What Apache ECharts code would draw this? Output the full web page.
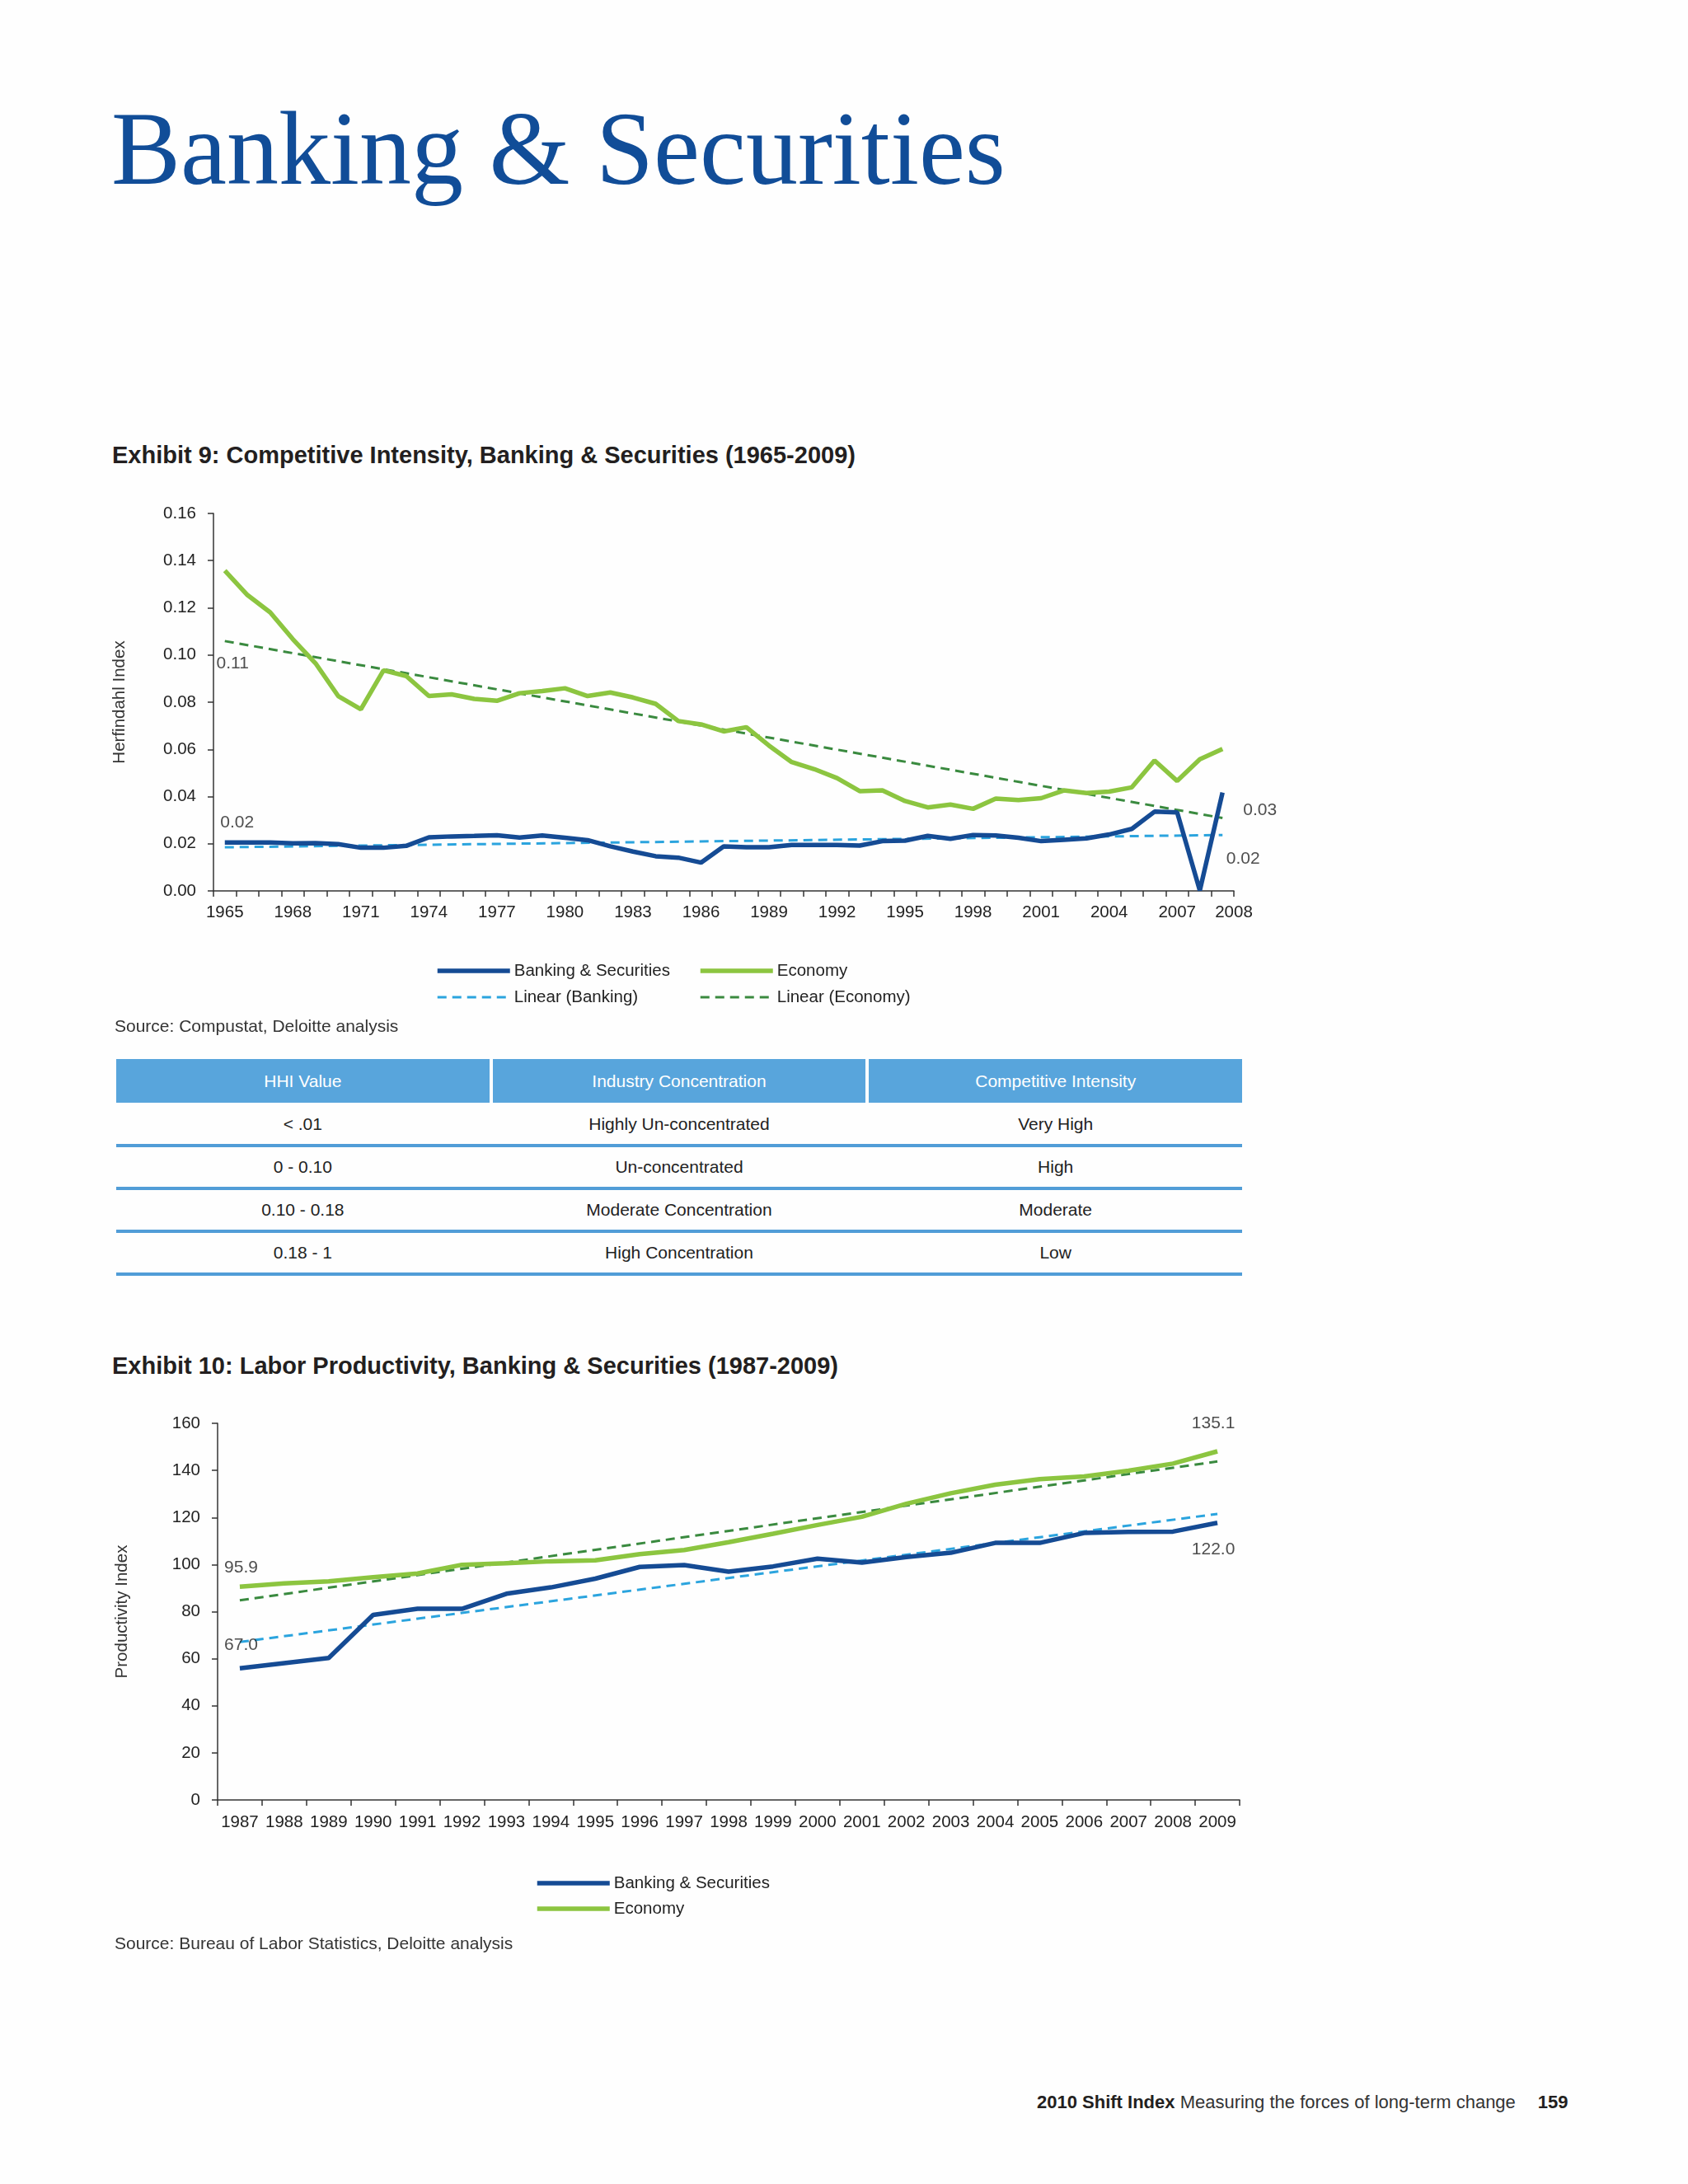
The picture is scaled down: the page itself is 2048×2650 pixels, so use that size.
<!DOCTYPE html>
<html>
<head>
<meta charset="utf-8">
<title>Banking &amp; Securities</title>
<script src="https://cdn.jsdelivr.net/npm/echarts@6/dist/echarts.min.js"></script>
<style>
  body {
    margin: 0;
    width: 2048px;
    height: 2650px;
    position: relative;
    background: #fefefe;
    font-family: 'Liberation Sans', Arial, sans-serif;
    color: #222;
  }
  .abs { position: absolute; white-space: nowrap; line-height: 1; }
  .page-title {
    left: 135px; top: 118px;
    font-family: 'Liberation Serif', 'DejaVu Serif', serif;
    font-size: 126px; color: #114d98;
  }
  .exhibit { left: 136px; font-size: 29px; font-weight: bold; color: #231f20; }
  .source { left: 139px; font-size: 21px; color: #333; }
  .footer { left: 1258px; top: 2540px; font-size: 22px; color: #333; }
  .footer b { color: #231f20; }
  .footer .page { margin-left: 27px; }
  .chart { position: absolute; left: 0; width: 1700px; }
  #table1 { position: absolute; left: 141px; top: 1285px; width: 1366px; }
  .thead { display: flex; gap: 4px; height: 53px; margin-bottom: 2px; }
  .thead div {
    flex: 1; background: #58a5dc; color: #fff;
    font-size: 21px; display: flex; align-items: center; justify-content: center;
  }
  .trow {
    display: flex; gap: 4px; height: 48px;
    border-bottom: 4px solid #519dd7;
  }
  .trow div {
    flex: 1; font-size: 21px; color: #222;
    display: flex; align-items: center; justify-content: center;
  }
</style>
</head>
<body>
<div class="abs page-title">Banking &amp; Securities</div>

<div class="abs exhibit" style="top:538px">Exhibit 9: Competitive Intensity, Banking &amp; Securities (1965-2009)</div>
<div id="chart1" class="chart" style="top:580px;height:660px"></div>
<div class="abs source" style="top:1234px">Source: Compustat, Deloitte analysis</div>
<div id="table1"></div>

<div class="abs exhibit" style="top:1643px">Exhibit 10: Labor Productivity, Banking &amp; Securities (1987-2009)</div>
<div id="chart2" class="chart" style="top:1690px;height:700px"></div>
<div class="abs source" style="top:2347px">Source: Bureau of Labor Statistics, Deloitte analysis</div>

<div class="abs footer"><b>2010 Shift Index</b> Measuring the forces of long-term change<b class="page">159</b></div>

<script>
// Exhibit 9 data
const years1 = [
  "1965", "1966", "1967", "1968", "1969", "1970", "1971", "1972", "1973", "1974",
  "1975", "1976", "1977", "1978", "1979", "1980", "1981", "1982", "1983", "1984",
  "1985", "1986", "1987", "1988", "1989", "1990", "1991", "1992", "1993", "1994",
  "1995", "1996", "1997", "1998", "1999", "2000", "2001", "2002", "2003", "2004",
  "2005", "2006", "2007", "2008", "2009",
];
const bank1 = [
  0.0205, 0.0205, 0.0205, 0.0202, 0.0203, 0.0198, 0.0183, 0.0183, 0.0191, 0.0227,
  0.0231, 0.0233, 0.0236, 0.0226, 0.0235, 0.0225, 0.0215, 0.0189, 0.0167, 0.0147,
  0.0141, 0.012, 0.0189, 0.0185, 0.0185, 0.0195, 0.0195, 0.0195, 0.0192, 0.0211,
  0.0213, 0.0233, 0.0221, 0.0237, 0.0235, 0.0225, 0.0211, 0.0217, 0.0223, 0.0239,
  0.0263, 0.0336, 0.0333, 0.0002, 0.0417,
];
const econ1 = [
  0.1358, 0.1254, 0.1181, 0.1067, 0.0965, 0.0826, 0.077, 0.0935, 0.0911, 0.0826,
  0.0833, 0.0814, 0.0806, 0.0838, 0.0847, 0.0859, 0.0826, 0.0841, 0.082, 0.0793,
  0.072, 0.0706, 0.0676, 0.0694, 0.0616, 0.0546, 0.0516, 0.0478, 0.0423, 0.0426,
  0.0381, 0.0354, 0.0366, 0.0348, 0.0391, 0.0385, 0.0393, 0.0426, 0.0415, 0.0421,
  0.0439, 0.0553, 0.0466, 0.0558, 0.0602,
];
const bankTrend1 = [0.0185, 0.0237]; // start, end
const econTrend1 = [0.1059, 0.0309];
const trendLabels1 = ["0.02", "0.02", "0.11", "0.03"]; // bank start/end, econ start/end
const endTickLabel1 = "2008";

// Exhibit 10 data
const years2 = [
  "1987", "1988", "1989", "1990", "1991", "1992", "1993", "1994", "1995", "1996",
  "1997", "1998", "1999", "2000", "2001", "2002", "2003", "2004", "2005", "2006",
  "2007", "2008", "2009",
];
const bank2 = [
  55.9, 58.1, 60.3, 78.6, 81.2, 81.2, 87.6, 90.3, 94.0, 99.0,
  99.8, 97.0, 99.2, 102.5, 100.8, 103.2, 105.0, 109.2, 109.2, 113.4,
  113.9, 114.0, 117.7,
];
const econ2 = [
  90.6, 92.0, 92.9, 94.6, 96.2, 99.9, 100.6, 101.4, 101.8, 104.4,
  106.2, 109.5, 113.1, 116.8, 120.3, 125.8, 130.3, 133.9, 136.3, 137.4,
  139.9, 142.9, 148.1,
];
const bankTrend2 = [67.1, 121.5];
const econTrend2 = [84.8, 143.8];
const trendLabels2 = ["67.0", "122.0", "95.9", "135.1"];

// HHI table
const tableHeaders = ["HHI Value", "Industry Concentration", "Competitive Intensity"];
const tableRows = [
  ["< .01", "Highly Un-concentrated", "Very High"],
  ["0 - 0.10", "Un-concentrated", "High"],
  ["0.10 - 0.18", "Moderate Concentration", "Moderate"],
  ["0.18 - 1", "High Concentration", "Low"],
];

const FONT = "'Liberation Sans', Arial, sans-serif";
const BANK = "#154b94";
const ECON = "#8cc540";
const BANK_TREND = "#2ba4de";
const ECON_TREND = "#3a8a3f";
const AXIS = "#333";

function buildTable() {
  const el = document.getElementById("table1");
  const head = document.createElement("div");
  head.className = "thead";
  tableHeaders.forEach((h) => {
    const c = document.createElement("div");
    c.textContent = h;
    head.appendChild(c);
  });
  el.appendChild(head);
  tableRows.forEach((r) => {
    const row = document.createElement("div");
    row.className = "trow";
    r.forEach((t) => {
      const c = document.createElement("div");
      c.textContent = t;
      row.appendChild(c);
    });
    el.appendChild(row);
  });
}

function lineSeries(name, data, color, width, dashed) {
  return {
    name: name,
    type: "line",
    data: data,
    symbol: "none",
    z: dashed ? 2 : 3,
    connectNulls: true,
    lineStyle: { color: color, width: width, type: dashed ? [11, 7] : "solid" },
    itemStyle: { color: color },
    emphasis: { disabled: true },
  };
}

// invisible points carrying the hand-placed value labels
function labelSeries(points, texts, offsets) {
  return {
    type: "scatter",
    symbol: "circle",
    symbolSize: 1,
    silent: true,
    z: 5,
    itemStyle: { color: "rgba(0,0,0,0)" },
    data: points.map((pt, i) => ({
      value: pt,
      label: {
        show: true,
        position: "inside",
        offset: offsets[i],
        formatter: texts[i],
        fontFamily: FONT,
        fontSize: 21,
        color: "#222",
      },
    })),
  };
}

function legendStyle(left, top, gap, names) {
  return {
    orient: "vertical",
    left: left,
    top: top,
    itemWidth: 88,
    itemHeight: 14,
    itemGap: gap,
    selectedMode: false,
    data: names,
    itemStyle: { opacity: 0 }, // hide the marker, keep the line
    lineStyle: { width: "inherit" },
    textStyle: { fontFamily: FONT, fontSize: 20.5, color: "#222", lineHeight: 26 },
  };
}

function buildOption(p) {
  const n = p.categories.length;
  const bankTrend = [[0, p.bankTrend[0]], [n - 1, p.bankTrend[1]]];
  const econTrend = [[0, p.econTrend[0]], [n - 1, p.econTrend[1]]];
  return {
    animation: false,
    textStyle: { fontFamily: FONT },
    grid: {
      left: p.grid.left,
      top: p.grid.top,
      width: p.grid.width,
      height: p.grid.height,
      outerBoundsMode: "none",
    },
    legend: p.legend,
    xAxis: {
      type: "category",
      data: p.categories,
      boundaryGap: true,
      axisLine: { lineStyle: { color: AXIS, width: 1.5 } },
      axisTick: { show: true, interval: 0, length: 7, lineStyle: { color: AXIS, width: 1.5 } },
      axisLabel: {
        interval: p.labelInterval,
        margin: p.xMargin,
        fontSize: 20.5,
        color: "#222",
        fontFamily: FONT,
        hideOverlap: false,
      },
      splitLine: { show: false },
    },
    yAxis: {
      type: "value",
      min: p.y.min,
      max: p.y.max,
      interval: p.y.interval,
      name: p.y.name,
      nameLocation: "middle",
      nameGap: p.y.nameGap,
      nameTextStyle: { fontFamily: FONT, fontSize: 20.5, color: "#333" },
      axisLine: { show: true, lineStyle: { color: AXIS, width: 1.5 } },
      axisTick: { show: true, length: 7, lineStyle: { color: AXIS, width: 1.5 } },
      axisLabel: {
        margin: 21,
        fontSize: 20.5,
        color: "#222",
        fontFamily: FONT,
        formatter: p.y.formatter,
      },
      splitLine: { show: false },
    },
    series: [
      lineSeries("Banking & Securities", p.bank, BANK, 5.5, false),
      lineSeries("Economy", p.econ, ECON, 5.5, false),
      lineSeries("Linear (Banking)", bankTrend, BANK_TREND, 3, true),
      lineSeries("Linear (Economy)", econTrend, ECON_TREND, 3, true),
      labelSeries(
        [bankTrend[0], bankTrend[1], econTrend[0], econTrend[1]],
        p.trendLabels,
        p.labelOffsets
      ),
    ],
  };
}

function initChart1() {
  const chart = echarts.init(document.getElementById("chart1"), null, { renderer: "canvas" });
  chart.setOption(
    buildOption({
      categories: years1,
      bank: bank1,
      econ: econ1,
      bankTrend: bankTrend1,
      econTrend: econTrend1,
      trendLabels: trendLabels1,
      labelOffsets: [[15, -29.5], [25, 29.5], [9.5, 27.5], [45.5, -9.5]],
      grid: { left: 259, top: 43, width: 1238, height: 458 },
      labelInterval: (idx) => idx % 3 === 0,
      xMargin: 16,
      y: {
        min: 0,
        max: 0.16,
        interval: 0.02,
        name: "Herfindahl Index",
        nameGap: 103,
        formatter: (v) => v.toFixed(2),
      },
      legend: [
        legendStyle(523, 580, 6, ["Banking & Securities", "Linear (Banking)"]),
        legendStyle(842, 580, 6, ["Economy", "Linear (Economy)"]),
      ],
    })
  );
  // the axis-end label that sits past the last category
  const n = years1.length;
  const last = chart.convertToPixel({ xAxisIndex: 0 }, n - 1);
  const prev = chart.convertToPixel({ xAxisIndex: 0 }, n - 2);
  const base = chart.convertToPixel({ yAxisIndex: 0 }, 0);
  chart.setOption({
    graphic: [
      {
        type: "text",
        x: last + (last - prev) / 2,
        y: base + 16,
        style: {
          text: endTickLabel1,
          fontFamily: FONT,
          fontSize: 20.5,
          fill: "#222",
          align: "center",
          verticalAlign: "top",
        },
      },
    ],
  });
}

function initChart2() {
  const chart = echarts.init(document.getElementById("chart2"), null, { renderer: "canvas" });
  chart.setOption(
    buildOption({
      categories: years2,
      bank: bank2,
      econ: econ2,
      bankTrend: bankTrend2,
      econTrend: econTrend2,
      trendLabels: trendLabels2,
      labelOffsets: [[1.5, 4], [-5, 43], [1.5, -40], [-5, -46]],
      grid: { left: 264, top: 37, width: 1240, height: 457 },
      labelInterval: 0,
      xMargin: 17,
      y: {
        min: 0,
        max: 160,
        interval: 20,
        name: "Productivity Index",
        nameGap: 105,
        formatter: (v) => String(v),
      },
      legend: [legendStyle(644, 577, 5, ["Banking & Securities", "Economy"])],
    })
  );
}

buildTable();
initChart1();
initChart2();
</script>
</body>
</html>
